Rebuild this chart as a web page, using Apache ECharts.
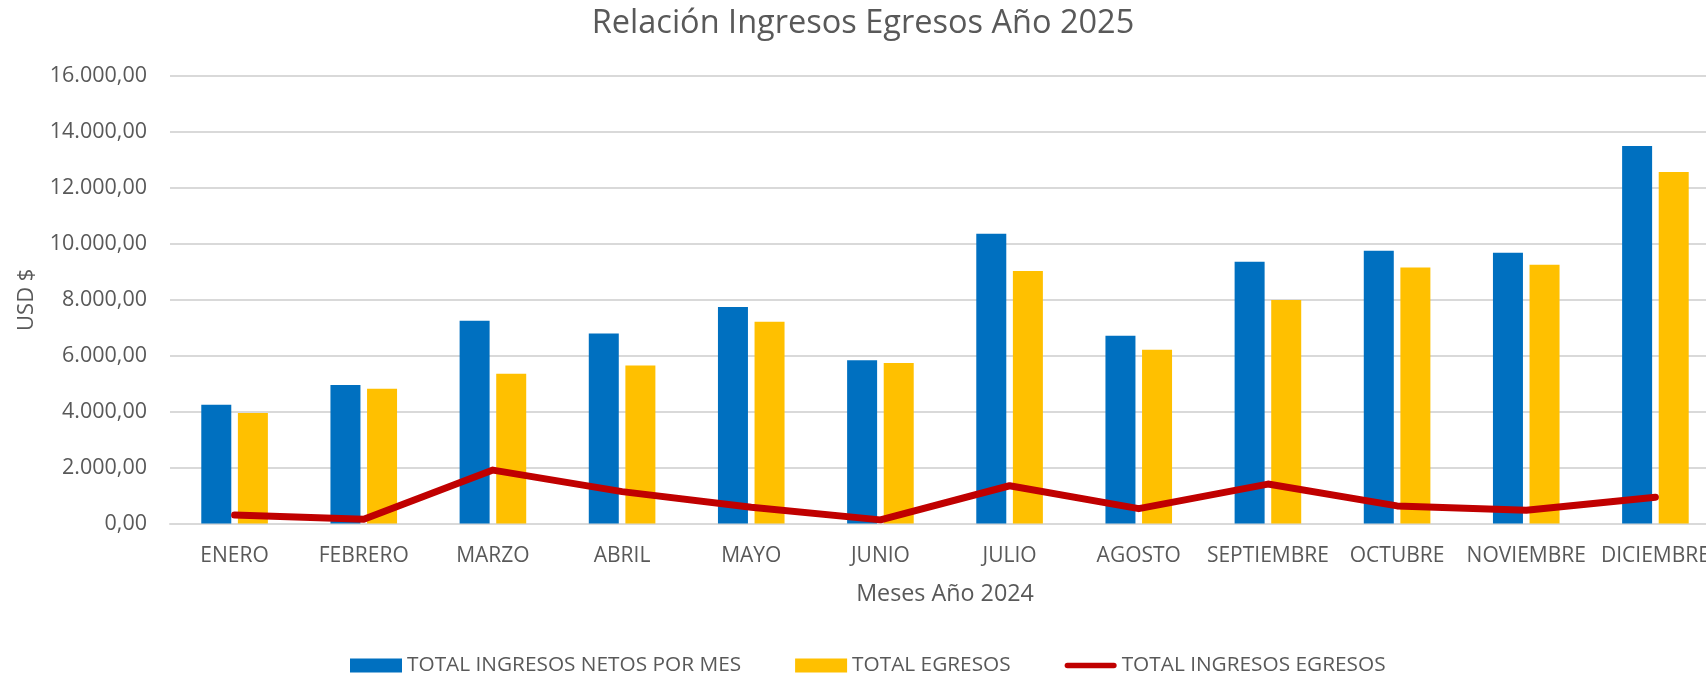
<!DOCTYPE html>
<html>
<head>
<meta charset="utf-8">
<script src="https://cdn.jsdelivr.net/npm/echarts@6/dist/echarts.min.js"></script>
<style>
  html, body { margin: 0; padding: 0; background: #ffffff; overflow: hidden; }
  /* the plot area runs slightly past the right edge of the window */
  #chart { width: 1720px; height: 677px; }
</style>
</head>
<body>
<div id="chart"></div>
<script>
// Months (category axis)
const meses = ['ENERO', 'FEBRERO', 'MARZO', 'ABRIL', 'MAYO', 'JUNIO', 'JULIO',
  'AGOSTO', 'SEPTIEMBRE', 'OCTUBRE', 'NOVIEMBRE', 'DICIEMBRE'];

// Monthly totals in USD
const ingresosNetos = [4250, 4950, 7250, 6790, 7740, 5840, 10360, 6710, 9360, 9750, 9680, 13500];
const egresos = [3950, 4820, 5350, 5650, 7210, 5740, 9030, 6210, 7990, 9150, 9250, 12570];
const ingresosEgresos = [300, 150, 1910, 1140, 580, 130, 1350, 530, 1410, 630, 470, 940];

// Value axis range
const yMin = 0, yMax = 16000, yStep = 2000;

const FONT = '"Open Sans", sans-serif';
const TEXT = '#595959';

// 16000 -> "16.000,00"
function formatoEs(v) {
  const parts = Number(v).toFixed(2).split('.');
  const ent = parts[0].replace(/\B(?=(\d{3})+(?!\d))/g, '.');
  return ent + ',' + parts[1];
}

// thick rounded stroke used as the legend key of the line series
const ICONO_LINEA = 'path://M3,0 L53,0 A3,3 0 0 1 53,6 L3,6 A3,3 0 0 1 3,0 Z';

const chart = echarts.init(document.getElementById('chart'), null, { renderer: 'canvas' });

chart.setOption({
  animation: false,
  backgroundColor: '#ffffff',
  textStyle: { fontFamily: FONT },
  title: {
    text: 'Relación Ingresos Egresos Año 2025',
    left: 858,
    textAlign: 'center',
    top: 2,
    textStyle: { fontFamily: FONT, fontSize: 32.5, fontWeight: 'normal', color: TEXT }
  },
  grid: { left: 170, top: 76, right: 0, height: 447.5, containLabel: false },
  legend: {
    left: 345,
    top: 650,
    itemWidth: 52,
    itemHeight: 14,
    itemGap: 54,
    textStyle: { fontFamily: FONT, fontSize: 20.8, color: TEXT },
    data: [
      { name: 'TOTAL INGRESOS NETOS POR MES', icon: 'rect' },
      { name: 'TOTAL EGRESOS', icon: 'rect' },
      { name: 'TOTAL INGRESOS EGRESOS', icon: ICONO_LINEA }
    ]
  },
  xAxis: {
    type: 'category',
    data: meses,
    name: 'Meses Año 2024',
    nameLocation: 'middle',
    nameGap: 59,
    nameTextStyle: { fontFamily: FONT, fontSize: 23.3, color: TEXT },
    axisLine: { lineStyle: { color: '#d9d9d9', width: 2 } },
    axisTick: { show: false },
    axisLabel: { fontFamily: FONT, fontSize: 21, color: TEXT, margin: 22, interval: 0 }
  },
  yAxis: {
    type: 'value',
    min: yMin,
    max: yMax,
    interval: yStep,
    name: 'USD $',
    nameLocation: 'middle',
    nameGap: 132,
    nameTextStyle: { fontFamily: FONT, fontSize: 22, color: TEXT },
    axisLine: { show: false },
    axisTick: { show: false },
    splitLine: { lineStyle: { color: '#d9d9d9', width: 2 } },
    axisLabel: { fontFamily: FONT, fontSize: 21.5, color: TEXT, margin: 23, formatter: formatoEs }
  },
  series: [
    {
      name: 'TOTAL INGRESOS NETOS POR MES',
      type: 'bar',
      data: ingresosNetos,
      barWidth: 30,
      barGap: '22%',
      itemStyle: { color: '#0070C0' }
    },
    {
      name: 'TOTAL EGRESOS',
      type: 'bar',
      data: egresos,
      barWidth: 30,
      barGap: '22%',
      itemStyle: { color: '#FFC000' }
    },
    {
      name: 'TOTAL INGRESOS EGRESOS',
      type: 'line',
      data: ingresosEgresos,
      symbol: 'none',
      lineStyle: { color: '#C00000', width: 7, cap: 'round', join: 'round' },
      itemStyle: { color: '#C00000' }
    }
  ]
});
</script>
</body>
</html>
